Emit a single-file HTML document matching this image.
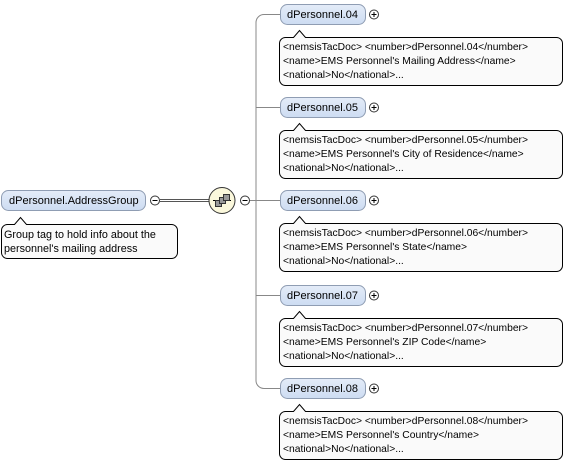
<!DOCTYPE html>
<html><head><meta charset="utf-8"><style>
body{margin:0;background:#fff;}
svg{display:block;font-family:"Liberation Sans",Arial,sans-serif;}
.n{font-size:11px;fill:#000;}
.d{font-size:10.3px;fill:#000;}
.r{font-size:10.8px;fill:#000;}
</style></head><body>
<svg width="586" height="464" viewBox="0 0 586 464" xmlns="http://www.w3.org/2000/svg">
<defs>
<linearGradient id="g" x1="0" y1="0" x2="0" y2="1"><stop offset="0" stop-color="#e4ecf8"/><stop offset="1" stop-color="#cddcf2"/></linearGradient>
</defs>
<rect x="1.5" y="190.5" width="144" height="20" rx="7" fill="url(#g)" stroke="#8f9db3"/>
<text class="n" x="9" y="204">dPersonnel.AddressGroup</text>
<circle cx="155" cy="200.5" r="4.5" fill="#fff" stroke="#333"/><line x1="152.5" y1="200.5" x2="157.5" y2="200.5" stroke="#000"/>
<line x1="160" y1="199.5" x2="209" y2="199.5" stroke="#555"/><line x1="160" y1="201.5" x2="209" y2="201.5" stroke="#555"/>
<path d="M1.5,230.5 a6,6 0 0 1 6,-6 h7 l6,-7 l6,7 h145 a6,6 0 0 1 6,6 v22 a6,6 0 0 1 -6,6 h-164 a6,6 0 0 1 -6,-6z" fill="#fafafa" stroke="#000"/>
<text class="r" x="4" y="238">Group tag to hold info about the</text>
<text class="r" x="4" y="252">personnel's mailing address</text>
<circle cx="222" cy="200.5" r="13" fill="#fbf8dc" stroke="#333"/>
<line x1="213" y1="200.5" x2="231" y2="200.5" stroke="#000"/>
<rect x="215.5" y="200.5" width="6" height="6" fill="#999" stroke="#333"/>
<rect x="219.5" y="197.5" width="6" height="6" fill="#999" stroke="#333"/>
<rect x="223.5" y="194.5" width="6" height="6" fill="#999" stroke="#333"/>
<circle cx="245" cy="200.5" r="4.5" fill="#fff" stroke="#333"/><line x1="242.5" y1="200.5" x2="247.5" y2="200.5" stroke="#000"/>
<line x1="250" y1="200.5" x2="280" y2="200.5" stroke="#888"/>
<path d="M280,14.5 h-16 a8,8 0 0 0 -8,8 V380.5 a8,8 0 0 0 8,8 h16" fill="none" stroke="#888"/>
<line x1="256" y1="107.5" x2="280" y2="107.5" stroke="#888"/>
<line x1="256" y1="295.5" x2="280" y2="295.5" stroke="#888"/>

<g transform="translate(0,4)">
<rect x="280.5" y="0.5" width="85" height="20" rx="7" fill="url(#g)" stroke="#8f9db3"/>
<text class="n" x="287" y="14">dPersonnel.04</text>
<circle cx="374" cy="10.5" r="4.5" fill="#fff" stroke="#333"/><line x1="371.5" y1="10.5" x2="376.5" y2="10.5" stroke="#000"/><line x1="374" y1="8" x2="374" y2="13" stroke="#000"/>
<path d="M279.5,39.5 a6,6 0 0 1 6,-6 h8 l6,-7 l6,7 h251 a6,6 0 0 1 6,6 v36 a6,6 0 0 1 -6,6 h-271 a6,6 0 0 1 -6,-6z" fill="#fafafa" stroke="#000"/>
<text class="d" x="283" y="46">&lt;nemsisTacDoc&gt; &lt;number&gt;dPersonnel.04&lt;/number&gt;</text>
<text class="d" x="283" y="60">&lt;name&gt;EMS Personnel's Mailing Address&lt;/name&gt;</text>
<text class="d" x="283" y="74">&lt;national&gt;No&lt;/national&gt;...</text>
</g>
<g transform="translate(0,97)">
<rect x="280.5" y="0.5" width="85" height="20" rx="7" fill="url(#g)" stroke="#8f9db3"/>
<text class="n" x="287" y="14">dPersonnel.05</text>
<circle cx="374" cy="10.5" r="4.5" fill="#fff" stroke="#333"/><line x1="371.5" y1="10.5" x2="376.5" y2="10.5" stroke="#000"/><line x1="374" y1="8" x2="374" y2="13" stroke="#000"/>
<path d="M279.5,39.5 a6,6 0 0 1 6,-6 h8 l6,-7 l6,7 h251 a6,6 0 0 1 6,6 v36 a6,6 0 0 1 -6,6 h-271 a6,6 0 0 1 -6,-6z" fill="#fafafa" stroke="#000"/>
<text class="d" x="283" y="46">&lt;nemsisTacDoc&gt; &lt;number&gt;dPersonnel.05&lt;/number&gt;</text>
<text class="d" x="283" y="60">&lt;name&gt;EMS Personnel's City of Residence&lt;/name&gt;</text>
<text class="d" x="283" y="74">&lt;national&gt;No&lt;/national&gt;...</text>
</g>
<g transform="translate(0,190)">
<rect x="280.5" y="0.5" width="85" height="20" rx="7" fill="url(#g)" stroke="#8f9db3"/>
<text class="n" x="287" y="14">dPersonnel.06</text>
<circle cx="374" cy="10.5" r="4.5" fill="#fff" stroke="#333"/><line x1="371.5" y1="10.5" x2="376.5" y2="10.5" stroke="#000"/><line x1="374" y1="8" x2="374" y2="13" stroke="#000"/>
<path d="M279.5,39.5 a6,6 0 0 1 6,-6 h8 l6,-7 l6,7 h251 a6,6 0 0 1 6,6 v36 a6,6 0 0 1 -6,6 h-271 a6,6 0 0 1 -6,-6z" fill="#fafafa" stroke="#000"/>
<text class="d" x="283" y="46">&lt;nemsisTacDoc&gt; &lt;number&gt;dPersonnel.06&lt;/number&gt;</text>
<text class="d" x="283" y="60">&lt;name&gt;EMS Personnel's State&lt;/name&gt;</text>
<text class="d" x="283" y="74">&lt;national&gt;No&lt;/national&gt;...</text>
</g>
<g transform="translate(0,285)">
<rect x="280.5" y="0.5" width="85" height="20" rx="7" fill="url(#g)" stroke="#8f9db3"/>
<text class="n" x="287" y="14">dPersonnel.07</text>
<circle cx="374" cy="10.5" r="4.5" fill="#fff" stroke="#333"/><line x1="371.5" y1="10.5" x2="376.5" y2="10.5" stroke="#000"/><line x1="374" y1="8" x2="374" y2="13" stroke="#000"/>
<path d="M279.5,39.5 a6,6 0 0 1 6,-6 h8 l6,-7 l6,7 h251 a6,6 0 0 1 6,6 v36 a6,6 0 0 1 -6,6 h-271 a6,6 0 0 1 -6,-6z" fill="#fafafa" stroke="#000"/>
<text class="d" x="283" y="46">&lt;nemsisTacDoc&gt; &lt;number&gt;dPersonnel.07&lt;/number&gt;</text>
<text class="d" x="283" y="60">&lt;name&gt;EMS Personnel's ZIP Code&lt;/name&gt;</text>
<text class="d" x="283" y="74">&lt;national&gt;No&lt;/national&gt;...</text>
</g>
<g transform="translate(0,378)">
<rect x="280.5" y="0.5" width="85" height="20" rx="7" fill="url(#g)" stroke="#8f9db3"/>
<text class="n" x="287" y="14">dPersonnel.08</text>
<circle cx="374" cy="10.5" r="4.5" fill="#fff" stroke="#333"/><line x1="371.5" y1="10.5" x2="376.5" y2="10.5" stroke="#000"/><line x1="374" y1="8" x2="374" y2="13" stroke="#000"/>
<path d="M279.5,39.5 a6,6 0 0 1 6,-6 h8 l6,-7 l6,7 h251 a6,6 0 0 1 6,6 v36 a6,6 0 0 1 -6,6 h-271 a6,6 0 0 1 -6,-6z" fill="#fafafa" stroke="#000"/>
<text class="d" x="283" y="46">&lt;nemsisTacDoc&gt; &lt;number&gt;dPersonnel.08&lt;/number&gt;</text>
<text class="d" x="283" y="60">&lt;name&gt;EMS Personnel's Country&lt;/name&gt;</text>
<text class="d" x="283" y="74">&lt;national&gt;No&lt;/national&gt;...</text>
</g>
</svg>
</body></html>
